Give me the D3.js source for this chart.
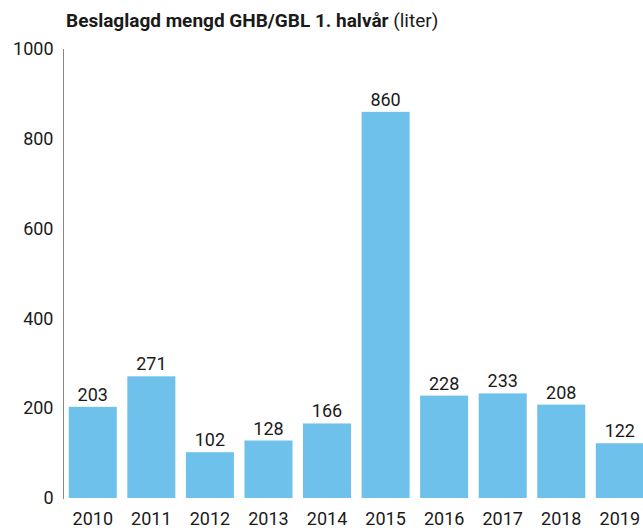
<!DOCTYPE html>
<html>
<head>
<meta charset="utf-8">
<script src="https://cdn.jsdelivr.net/npm/d3@7"></script>
<style>
body{margin:0;background:#fff;}
text{font-family:Roboto,"Noto Sans",sans-serif;fill:#1a1a1a;}
</style>
</head>
<body>
<div id="root"></div>
<script>
// data
var years=['2010','2011','2012','2013','2014','2015','2016','2017','2018','2019'];
var values=[203,271,102,128,166,860,228,233,208,122];
var yTicks=[0,200,400,600,800,1000];

var W=643,H=528;
var svg=d3.select('#root').append('svg').attr('width',W).attr('height',H);

var x=d3.scaleBand().domain(years).range([63.5,649.1]).paddingInner(0.18).paddingOuter(0.09);
var y=d3.scaleLinear().domain([0,1000]).range([498,49]);

// title
var title=svg.append('text').attr('x',66).attr('y',27).style('font-size','19px');
title.append('tspan').style('font-weight','bold').text('Beslaglagd mengd GHB/GBL 1. halvår');
title.append('tspan').style('font-weight','normal').text(' (liter)');

// y axis
var yAxis=d3.axisLeft(y).tickValues(yTicks).tickSize(0).tickPadding(10).tickFormat(d3.format('d'));
var ya=svg.append('g').attr('transform','translate(63.5,0)').call(yAxis);
ya.select('.domain').attr('stroke','#888').attr('d','M0,'+y(1000)+'V'+(y(0)+1));
ya.selectAll('text').style('font-size','18px').attr('fill','#1a1a1a');

// bars
svg.selectAll('.bar').data(values).enter().append('rect').attr('class','bar')
  .attr('x',function(d,i){return x(years[i])})
  .attr('y',function(d){return y(d)})
  .attr('width',x.bandwidth())
  .attr('height',function(d){return y(0)-y(d)})
  .attr('fill','#6ec1eb');

// value labels
svg.selectAll('.val').data(values).enter().append('text').attr('class','val')
  .attr('x',function(d,i){return x(years[i])+x.bandwidth()/2})
  .attr('y',function(d){return y(d)-6})
  .attr('text-anchor','middle').style('font-size','18px')
  .text(function(d){return d});

// x axis labels
var xAxis=d3.axisBottom(x).tickSize(0).tickPadding(0);
var xa=svg.append('g').attr('transform','translate(0,'+y(0)+')').call(xAxis);
xa.select('.domain').remove();
xa.selectAll('text').style('font-size','18px').attr('fill','#1a1a1a').attr('dy',null).attr('y',27);
</script>
</body>
</html>
